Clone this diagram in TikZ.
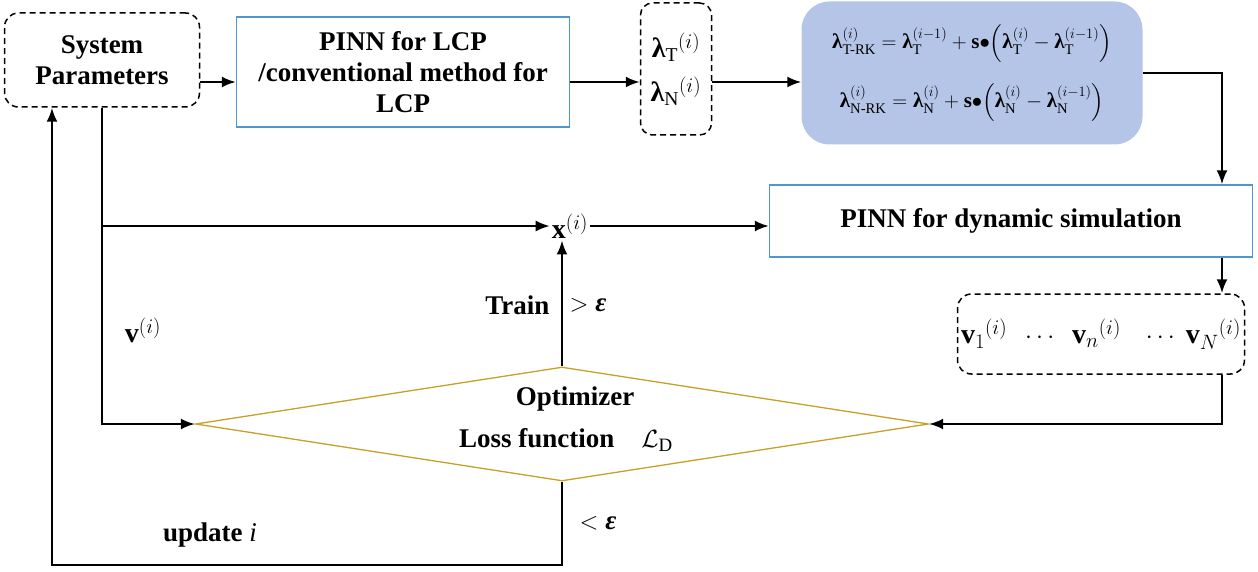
\documentclass[tikz,border=0pt]{standalone}
\usepackage{amsmath, amssymb}
\usepackage{bm}
\usepackage{fontspec}
\setmainfont{Liberation Serif}
\usepackage{xcolor}
\usetikzlibrary{arrows.meta, shapes.geometric, calc}

\definecolor{boxblue}{RGB}{80,150,210}
\definecolor{rkfill}{RGB}{180,197,231}
\definecolor{optgold}{RGB}{200,160,40}

% bold Greek taken from the text font
\newcommand{\blam}{\textnormal{\bfseries λ}}
\newcommand{\beps}{\textnormal{\bfseries\itshape ε}}

\begin{document}
\begin{tikzpicture}[
    x=1pt, y=-1pt,
    every node/.style={font=\fontsize{27}{31}\selectfont\bfseries},
    mathnode/.style={font=\fontsize{28}{32}\selectfont},
    dashbox/.style={draw, dash pattern=on 6pt off 4pt, line width=1.5pt, rounded corners=14pt},
    bluebox/.style={draw=boxblue, line width=1.3pt, align=center},
    flow/.style={->, >={Latex[length=14pt, width=11pt]}, line width=2.2pt}
]
\useasboundingbox (0,0) rectangle (1258,572);

% top row
\node[dashbox, minimum width=195pt, minimum height=94pt, align=center] (sysparam) at (102,60) {System\\Parameters};
\node[bluebox, minimum width=333pt, minimum height=110pt] (lcp) at (403,72) {PINN for LCP\\/conventional method for\\LCP};
\node[dashbox, mathnode, rounded corners=12pt, minimum width=71pt, minimum height=132pt, align=center] (lam) at (676,69)
    {$\blam_{\mathrm{T}}{}^{(i)}$\\[12pt]$\blam_{\mathrm{N}}{}^{(i)}$};
\node[fill=rkfill, rounded corners=28pt, minimum width=341pt, minimum height=143pt, align=center,
      font=\fontsize{21}{24}\selectfont] (rk) at (972,73)
    {$\blam^{(i)}_{\text{T-RK}}=\blam^{(i-1)}_{\mathrm{T}}+\mathbf{s}{\bullet}\Bigl(\blam^{(i)}_{\mathrm{T}}-\blam^{(i-1)}_{\mathrm{T}}\Bigr)$\\[20pt]
     $\blam^{(i)}_{\text{N-RK}}=\blam^{(i)}_{\mathrm{N}}+\mathbf{s}{\bullet}\Bigl(\blam^{(i)}_{\mathrm{N}}-\blam^{(i-1)}_{\mathrm{N}}\Bigr)$};

% middle
\node[bluebox, minimum width=483pt, minimum height=72pt] (dyn) at (1011,221) {PINN for dynamic simulation};
\node[mathnode, inner sep=2pt] (x) at (570,226) {$\mathbf{x}^{(i)}$};
\node[dashbox, mathnode, minimum width=287pt, minimum height=80pt] (vset) at (1101,334)
    {$\mathbf{v}_1{}^{(i)}\;\;\cdots\;\;\mathbf{v}_n{}^{(i)}\;\;\;\cdots\;\mathbf{v}_N{}^{(i)}$};
\node[mathnode] (vlabel) at (143,330) {$\mathbf{v}^{(i)}$};

% optimizer
\node[diamond, draw=optgold, line width=1.3pt, minimum width=733pt, minimum height=114pt, inner sep=0pt] (opt) at (562,424) {};
\node (optlabel) at (575,399) {Optimizer};
\node (losslabel) at (566,440) {Loss function\quad$\mathcal{L}_{\mathrm{D}}$};
\node[anchor=east] (train) at (553,305) {Train};
\node[anchor=west] (gt) at (566,305) {$>\beps$};
\node[anchor=west] (lt) at (576,523) {$<\beps$};
\node (upd) at (210,535) {update \textit{\mdseries i}};

\coordinate (row) at (0,82);
\coordinate (rcol) at (1222,0);
\coordinate (bot) at (52,565);

% connectors
\draw[flow] (sysparam.east |- row) -- (lcp.west |- row);
\draw[flow] (lcp.east |- row) -- (lam.west |- row);
\draw[flow] (lam.east |- row) -- (rk.west |- row);
\draw[flow] (rk.east) -| (dyn.north -| rcol);
\draw[flow] (sysparam.south) |- (x.west);
\draw[flow] (sysparam.south) |- (opt.west);
\draw[flow] (x.east) -- (dyn.west |- x.east);
\draw[flow] (dyn.south -| rcol) -- (vset.north -| rcol);
\draw[flow] (vset.south -| rcol) |- (opt.east);
\draw[flow] (opt.north) -- (opt.north |- x.south);
\draw[flow] (opt.south) |- (bot) -- (sysparam.south -| bot);

\end{tikzpicture}
\end{document}
